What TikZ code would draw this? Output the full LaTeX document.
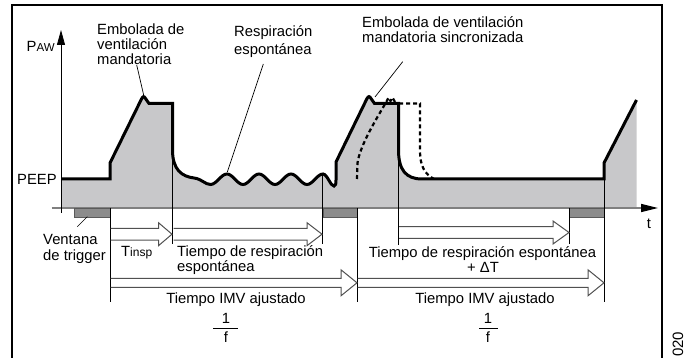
\documentclass[tikz,border=0pt]{standalone}
\usepackage{fontspec}
\setmainfont{Liberation Sans}
\usetikzlibrary{arrows.meta}
\definecolor{areagray}{RGB}{200,200,202}
\definecolor{barfill}{RGB}{140,140,140}
\definecolor{barline}{RGB}{90,90,90}
\definecolor{axisgray}{RGB}{128,128,128}
\definecolor{arrline}{RGB}{80,80,80}
\newcommand{\hollowarrow}[6]{%
  \draw[arrstyle] (#1,#3-#4) -- (#2-#6,#3-#4) -- (#2-#6,#3-#5) -- (#2,#3)
    -- (#2-#6,#3+#5) -- (#2-#6,#3+#4) -- (#1,#3+#4);}
\begin{document}
\begin{tikzpicture}[x=1pt,y=-1pt,
  lbl/.style={font=\fontsize{14.8}{16}\selectfont, inner sep=0pt},
  wavepts/.style={insert path={
    -- (110,179) -- (110,163) -- (141.5,99) .. controls (143,96) and (144,96) .. (145.5,98.5)
    -- (149,103.5) -- (172.5,103.5) -- (172.5,150)
    .. controls (172.5,170) and (182,176.5) .. (194,178)
    .. controls (202,179) and (205,184.5) .. (210.5,184.5)
    cos (218.75,179.25) sin (227,174) cos (235,179.25) sin (243,184.5)
    cos (251,179.25) sin (259,174) cos (267,179.25) sin (275,184.5)
    cos (283,179.25) sin (291,174) cos (299,179.25) sin (307,184.5)
    cos (315,179.25) sin (323,174) cos (329,180.5) sin (334,186)
    .. controls (335.5,186) and (336,184) .. (336,180) -- (336,162)
    -- (367,98.5) .. controls (368.5,96) and (369.5,96) .. (371,98.5)
    -- (374.5,103.5) -- (398.5,103.5) -- (398.5,150)
    .. controls (398.5,170) and (406,179) .. (422,179)
    -- (604,179) -- (604,163) -- (636.5,100)}},
  thin/.style={line width=0.8pt, black},
  arrstyle/.style={line width=1pt, arrline, line join=miter},
  wave/.style={line width=3pt, black, line join=miter, miter limit=6},
  dashstyle/.style={line width=2.2pt, black, dash pattern=on 4pt off 3pt},
  trigbar/.style={fill=barfill, draw=barline, line width=0.6pt},
  leader/.style={line width=0.7pt, black}]
\useasboundingbox (0,0) rectangle (685,358);
% frame
\draw[line width=1.3pt] (12,358) -- (12,5) -- (662,5) -- (662,358);
% gray area
\fill[areagray] (61,179) [wavepts] -- (636.5,207) -- (61,207) -- cycle;
% time axis
\draw[axisgray, line width=1.5pt, -{Triangle[length=17pt,width=8pt,color=black]}] (51.5,208) -- (658,208);
% trigger windows
\draw[trigbar] (74,208) rectangle (110,217);
\draw[trigbar] (323,208) rectangle (357,217);
\draw[trigbar] (569.5,208) rectangle (604,217);
% marker lines
\draw[thin] (110,208) -- (110,302);
\draw[thin] (172.5,150) -- (172.5,244);
\draw[thin] (322.5,175) -- (322.5,244);
\draw[thin] (357,208) -- (357,302);
\draw[thin] (398.5,150) -- (398.5,245);
\draw[thin] (569.5,208) -- (569.5,244);
\draw[thin] (604,179) -- (604,302);
% pressure axis
\draw[line width=0.8pt, -{Triangle[length=15pt,width=8pt]}] (61,213) -- (61,30);
% dashed synchronized alternative
\draw[dashstyle] (357,179) -- (357.5,163) .. controls (360,145) and (377,118) .. (386.5,101.5)
  -- (388.5,97.5) -- (390.5,101) -- (392.5,97.5) -- (395,102);
\draw[dashstyle] (399,103.5) -- (420,103.5) -- (420,150) .. controls (420,167) and (425,174) .. (434,179);
% waveform
\draw[wave] (61,179) [wavepts];
% hollow arrows
\hollowarrow{110.5}{172}{234.2}{5.8}{11.5}{13.5}
\hollowarrow{173.5}{322}{234.2}{5.8}{11.5}{15}
\hollowarrow{399}{569}{232.5}{5.8}{11.5}{16}
\hollowarrow{110.5}{357}{282.8}{4.5}{13}{16}
\hollowarrow{357.5}{604}{282.8}{4.5}{13}{16}
% labels
\node[lbl, anchor=base west] (e1) at (97,35) {Embolada de};
\node[lbl, anchor=base west] (e2) at (97,50) {ventilación};
\node[lbl, anchor=base west] (e3) at (97,64.5) {mandatoria};
\node[lbl, anchor=base west] (r1) at (234,37) {Respiración};
\node[lbl, anchor=base west] (r2) at (234,55) {espontánea};
\node[lbl, anchor=base west] (s1) at (362,28) {Embolada de ventilación};
\node[lbl, anchor=base west] (s2) at (362,43) {mandatoria sincronizada};
\node[lbl, anchor=base west] (paw) at (26.5,52) {P{\fontsize{11.5}{12}\selectfont AW}};
\node[lbl, anchor=base west] (peep) at (17,185) {PEEP};
\node[lbl, anchor=base west] (v1) at (43,244) {Ventana};
\node[lbl, anchor=base west] (v2) at (43,260) {de trigger};
\node[lbl, anchor=base west] (tin) at (121,256) {T{\fontsize{12}{12}\selectfont insp}};
\node[lbl, anchor=base west] (tr1) at (177,256) {Tiempo de respiración};
\node[lbl, anchor=base west] (tr2) at (177,271) {espontánea};
\node[lbl, anchor=base] (imv1) at (236,303) {Tiempo IMV ajustado};
\node[lbl, anchor=base] (one1) at (226,323) {1};
\node[lbl, anchor=base] (f1) at (226,342) {f};
\node[lbl, anchor=base] (tr3) at (482.5,257) {Tiempo de respiración espontánea};
\node[lbl, anchor=base] (dt) at (483,272) {+ ΔT};
\node[lbl, anchor=base] (imv2) at (485,303) {Tiempo IMV ajustado};
\node[lbl, anchor=base] (one2) at (488,323) {1};
\node[lbl, anchor=base] (f2) at (488,342) {f};
\node[lbl, anchor=base] (tl) at (649,228) {t};
\node[inner sep=0pt, rotate=90, anchor=base west, font=\fontsize{15}{15}\selectfont] (code) at (683,357) {020};
% fraction bars
\draw[line width=0.8pt] (213,328) -- (238,328);
\draw[line width=0.8pt] (479,328) -- (498,328);
% leader lines
\coordinate (la1) at (136.7,65); \coordinate (la2) at (144,96.5);
\coordinate (lb1) at (263.3,64); \coordinate (lb2) at (227.3,172);
\coordinate (lc1) at (402.7,61.7); \coordinate (lc2) at (375,97);
\coordinate (ld1) at (77.3,226.7); \coordinate (ld2) at (87.3,216.7);
\draw[leader] (la1) -- (la2);
\draw[leader] (lb1) -- (lb2);
\draw[leader] (lc1) -- (lc2);
\draw[leader] (ld1) -- (ld2);
\end{tikzpicture}
\end{document}
